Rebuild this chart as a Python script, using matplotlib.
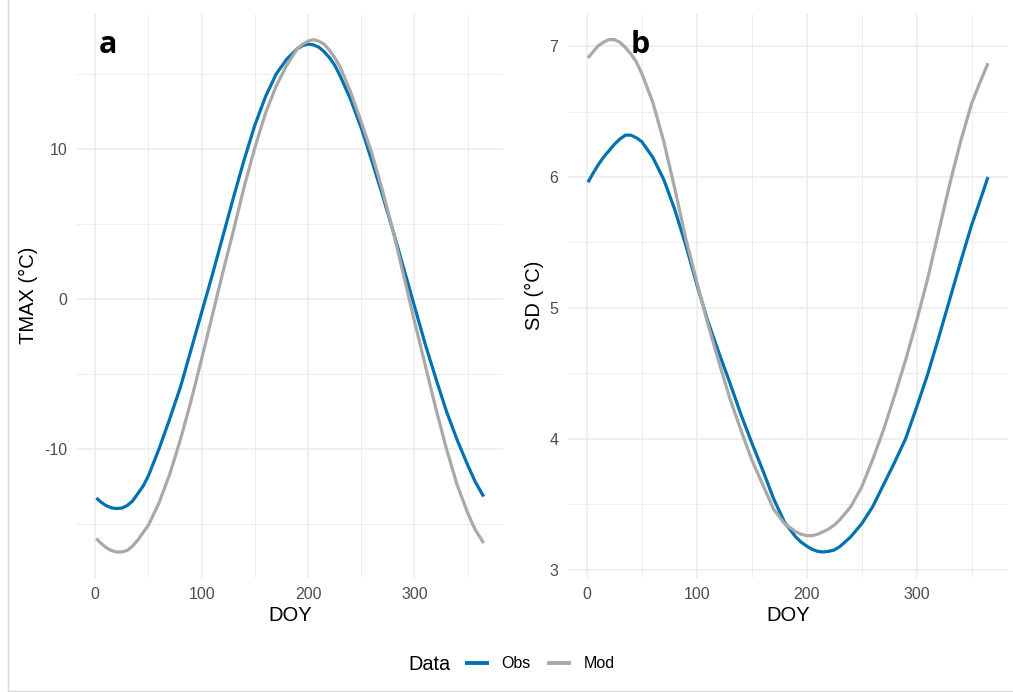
import matplotlib
matplotlib.use("Agg")
import matplotlib.pyplot as plt
from matplotlib.lines import Line2D

# day of year
doy = [1, 5, 10, 15, 20, 25, 30, 35, 40, 45, 50,
       60, 70, 80, 90, 100, 110, 120, 130, 140, 150, 160, 170, 180,
       190, 195, 200, 205, 210, 215, 220, 225, 230,
       240, 250, 260, 270, 280, 290, 300, 310, 320, 330, 340, 350,
       357, 365]

# panel a: TMAX (°C)
tmax_obs = [-13.3, -13.55, -13.8, -13.95, -14.0, -13.97, -13.8, -13.5, -13.0, -12.5, -11.8,
            -10.0, -8.0, -5.9, -3.4, -0.9, 1.6, 4.2, 6.8, 9.3, 11.6, 13.5, 15.0, 16.0,
            16.7, 16.9, 17.0, 16.95, 16.8, 16.5, 16.1, 15.6, 14.9,
            13.3, 11.4, 9.2, 6.9, 4.5, 2.0, -0.5, -3.0, -5.3, -7.5, -9.4, -11.1,
            -12.2, -13.2]
tmax_mod = [-16.0, -16.3, -16.6, -16.8, -16.9, -16.9, -16.8, -16.5, -16.1, -15.6, -15.1,
            -13.6, -11.7, -9.4, -6.8, -4.0, -1.1, 1.8, 4.6, 7.5, 10.1, 12.4, 14.2, 15.6,
            16.7, 17.0, 17.2, 17.3, 17.2, 17.0, 16.6, 16.1, 15.5,
            13.8, 11.8, 9.7, 7.2, 4.5, 1.5, -1.5, -4.4, -7.3, -10.0, -12.4, -14.3,
            -15.4, -16.3]

# panel b: SD (°C)
sd_obs = [5.96, 6.02, 6.09, 6.15, 6.20, 6.25, 6.29, 6.32, 6.32, 6.30, 6.27,
          6.15, 5.98, 5.75, 5.48, 5.18, 4.90, 4.66, 4.43, 4.19, 3.97, 3.76, 3.54, 3.36,
          3.25, 3.21, 3.18, 3.155, 3.14, 3.135, 3.14, 3.15, 3.175,
          3.25, 3.35, 3.48, 3.65, 3.82, 4.00, 4.24, 4.49, 4.77, 5.06, 5.35, 5.63,
          5.80, 6.00]
sd_mod = [6.91, 6.95, 7.00, 7.03, 7.05, 7.05, 7.03, 6.99, 6.94, 6.88, 6.79,
          6.57, 6.27, 5.91, 5.53, 5.20, 4.88, 4.59, 4.31, 4.07, 3.84, 3.65, 3.46, 3.35,
          3.29, 3.27, 3.26, 3.26, 3.27, 3.29, 3.31, 3.34, 3.38,
          3.48, 3.63, 3.84, 4.07, 4.33, 4.60, 4.90, 5.22, 5.58, 5.94, 6.27, 6.56,
          6.71, 6.87]

series_names = ["Obs", "Mod"]
colors = {"Obs": "#0072B2", "Mod": "#A9A9A9"}

W, H = 1013, 692
plt.rcParams["font.family"] = ["Liberation Sans", "DejaVu Sans"]
plt.rcParams["axes.unicode_minus"] = False
fig = plt.figure(figsize=(W / 100, H / 100), dpi=100)


def setup(ax, ylabel, yticks, yminor, label_x):
    ax.set_facecolor("white")
    for s in ax.spines.values():
        s.set_visible(False)
    lo_x, hi_x = min(doy), max(doy)
    px = 0.05 * (hi_x - lo_x)
    ax.set_xlim(lo_x - px, hi_x + px)
    ax.set_xticks([0, 100, 200, 300])
    ax.set_xticks([50, 150, 250, 350], minor=True)
    ax.set_yticks(yticks)
    ax.set_yticks(yminor, minor=True)
    ax.grid(True, which="major", color="#ebebeb", lw=1.1)
    ax.grid(True, which="minor", color="#ebebeb", lw=0.6)
    ax.set_axisbelow(True)
    ax.tick_params(which="both", length=0, labelsize=11.5, labelcolor="#4d4d4d")
    ax.tick_params(axis="x", pad=7)
    ax.tick_params(axis="y", pad=7)
    ax.set_xlabel("DOY", fontsize=14.5, color="black")
    ax.set_ylabel(ylabel, fontsize=14.5, color="black")
    ax.xaxis.label.set_va("center")
    ax.xaxis.set_label_coords(0.5, -0.067)
    ax.yaxis.label.set_va("center")
    ax.yaxis.set_label_coords(label_x, 0.5)


def set_ylim(ax, a, b):
    lo, hi = min(min(a), min(b)), max(max(a), max(b))
    p = 0.05 * (hi - lo)
    ax.set_ylim(lo - p, hi + p)


top = 1 - 14 / H
bottom = 1 - 577.6 / H
ax1 = fig.add_axes([77 / W, bottom, 426 / W, top - bottom])
ax2 = fig.add_axes([568 / W, bottom, 440 / W, top - bottom])

handles = []
for name, ys in zip(series_names, [tmax_obs, tmax_mod]):
    h, = ax1.plot(doy, ys, color=colors[name], lw=2.3, solid_capstyle="butt",
                  solid_joinstyle="round")
    handles.append(h)
for name, ys in zip(series_names, [sd_obs, sd_mod]):
    ax2.plot(doy, ys, color=colors[name], lw=2.3, solid_capstyle="butt",
             solid_joinstyle="round")

setup(ax1, "TMAX (°C)", [-10, 0, 10], [-15, -5, 5, 15], -0.114)
setup(ax2, "SD (°C)", [3, 4, 5, 6, 7], [3.5, 4.5, 5.5, 6.5], -0.077)
set_ylim(ax1, tmax_obs, tmax_mod)
set_ylim(ax2, sd_obs, sd_mod)

ax1.text(3, 16.4, "a", fontsize=22, fontweight="bold", family=["Open Sans", "DejaVu Sans"],
         ha="left", va="baseline")
ax2.text(40, 6.945, "b", fontsize=22, fontweight="bold", family=["Open Sans", "DejaVu Sans"],
         ha="left", va="baseline")

# legend at the bottom, title on the left
leg = fig.legend(handles, series_names, ncol=2, frameon=False, fontsize=11.5,
                 loc="center left", bbox_to_anchor=(465 / W, 1 - 664 / H),
                 handlelength=1.5, handletextpad=0.8, columnspacing=1.0,
                 borderpad=0, borderaxespad=0)
for h in leg.get_lines():
    h.set_linewidth(2.8)
fig.text(450 / W, 1 - 665 / H, "Data", fontsize=14.3, ha="right", va="center")

# thin frame around the figure
fig.add_artist(Line2D([8 / W, 8 / W], [0, 1], transform=fig.transFigure,
                      color="#d9d9d9", lw=1))
fig.add_artist(Line2D([8 / W, 1], [1 - 690.5 / H, 1 - 690.5 / H], transform=fig.transFigure,
                      color="#d9d9d9", lw=1))

fig.savefig("out.png", dpi=100, facecolor="white")
